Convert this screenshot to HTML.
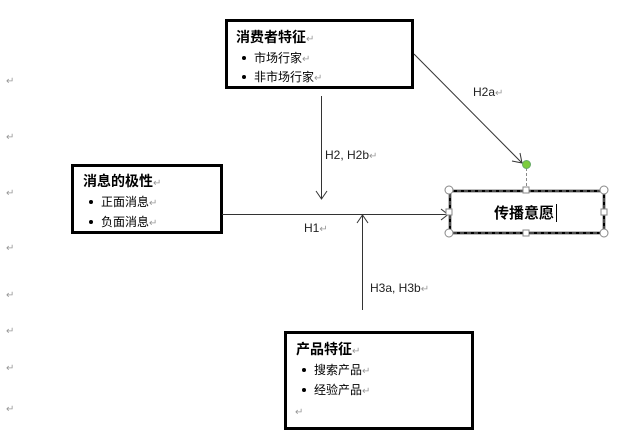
<!DOCTYPE html>
<html><head><meta charset="utf-8"><style>
body{margin:0;width:625px;height:447px;background:#fff;overflow:hidden;font-family:"Liberation Sans","Noto Sans CJK SC",sans-serif;}
svg{position:absolute;left:0;top:0}
text{font-family:"Liberation Sans","Noto Sans CJK SC",sans-serif;}
.t{font-size:14px;font-weight:bold;fill:#000}
.s{font-size:12px;fill:#000}
.l{font-size:12px;fill:#222}
.r{font-size:10px;fill:#999}
</style></head><body>
<svg width="625" height="447" viewBox="0 0 625 447">
<g class="r">
<text x="6" y="84" class="r">↵</text><text x="6" y="140" class="r">↵</text>
<text x="6" y="196" class="r">↵</text><text x="6" y="251" class="r">↵</text>
<text x="6" y="298" class="r">↵</text><text x="6" y="334" class="r">↵</text>
<text x="6" y="371" class="r">↵</text><text x="6" y="412" class="r">↵</text>
</g>
<rect x="226.5" y="20.5" width="186" height="67" fill="#fff" stroke="#000" stroke-width="3"/>
<text x="236" y="42" class="t">消费者特征<tspan class="r" font-weight="normal">↵</tspan></text>
<circle cx="244" cy="58" r="2" fill="#000"/><text x="254" y="62" class="s">市场行家<tspan class="r">↵</tspan></text>
<circle cx="244" cy="77" r="2" fill="#000"/><text x="254" y="81" class="s">非市场行家<tspan class="r">↵</tspan></text>
<rect x="72.5" y="165.5" width="149" height="67" fill="#fff" stroke="#000" stroke-width="3"/>
<text x="83" y="186" class="t">消息的极性<tspan class="r" font-weight="normal">↵</tspan></text>
<circle cx="91" cy="202" r="2" fill="#000"/><text x="101" y="206" class="s">正面消息<tspan class="r">↵</tspan></text>
<circle cx="91" cy="222" r="2" fill="#000"/><text x="101" y="226" class="s">负面消息<tspan class="r">↵</tspan></text>
<rect x="285.5" y="332.5" width="187" height="96" fill="#fff" stroke="#000" stroke-width="3"/>
<text x="296" y="354" class="t">产品特征<tspan class="r" font-weight="normal">↵</tspan></text>
<circle cx="304" cy="370" r="2" fill="#000"/><text x="314" y="374" class="s">搜索产品<tspan class="r">↵</tspan></text>
<circle cx="304" cy="390" r="2" fill="#000"/><text x="314" y="394" class="s">经验产品<tspan class="r">↵</tspan></text>
<text x="295" y="415" class="r">↵</text>
<g stroke="#333" stroke-width="1" fill="none">
<line x1="222" y1="214.5" x2="448" y2="214.5"/>
<polyline points="441,209 448,214.5 441,220"/>
<line x1="321.5" y1="96" x2="321.5" y2="199"/>
<polyline points="316,191 321.5,199 327,191"/>
<line x1="362.5" y1="310" x2="362.5" y2="215"/>
<polyline points="357,223 362.5,215 368,223"/>
<line x1="414" y1="54" x2="522" y2="163"/>
<polyline points="512,161 522,163 520,153"/>
</g>
<text x="473" y="96" class="l">H2a<tspan class="r">↵</tspan></text>
<text x="325" y="159" class="l">H2, H2b<tspan class="r">↵</tspan></text>
<text x="304" y="232" class="l">H1<tspan class="r">↵</tspan></text>
<text x="370" y="292" class="l">H3a, H3b<tspan class="r">↵</tspan></text>
<line x1="526.5" y1="168" x2="526.5" y2="190" stroke="#888" stroke-dasharray="3,2"/>
<rect x="450" y="191" width="154" height="42" fill="#fff" stroke="#000" stroke-width="2.5"/>
<rect x="450" y="191" width="154" height="42" fill="none" stroke="#999" stroke-width="1" stroke-dasharray="4,3"/>
<text x="494" y="218" class="t" style="font-size:15px">传播意愿</text>
<line x1="556.5" y1="204" x2="556.5" y2="222" stroke="#000"/>
<circle cx="526.5" cy="164.5" r="4" fill="#7ccc3c" stroke="#6a6" stroke-width="1"/>
<g fill="#fff" stroke="#888">
<circle cx="449" cy="190" r="4"/><circle cx="604" cy="190" r="4"/>
<circle cx="449" cy="233" r="4"/><circle cx="604" cy="233" r="4"/>
<rect x="523" y="187" width="6" height="6"/><rect x="523" y="230" width="6" height="6"/>
<rect x="446" y="209" width="6" height="6"/><rect x="601" y="209" width="6" height="6"/>
</g>
</svg>
</body></html>
